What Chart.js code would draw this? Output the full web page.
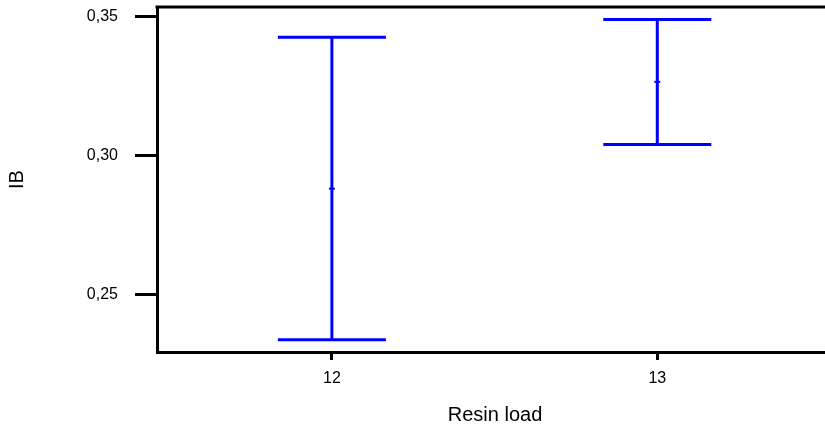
<!DOCTYPE html>
<html>
<head>
<meta charset="utf-8">
<script src="https://cdn.jsdelivr.net/npm/chart.js@4/dist/chart.umd.min.js"></script>
<style>
  html, body { margin: 0; padding: 0; background: #fff; overflow: hidden; }
  #wrap { width: 825px; height: 427px; overflow: hidden; }
</style>
</head>
<body>
<div id="wrap"><canvas id="c" width="833" height="427"></canvas></div>
<script>
// IB vs resin load: interval plot (mean with low/high bars)
// the frame runs past the right edge of the window, as in the source image
const resinLoad = [12, 13];
const ibMean = [0.2882, 0.3266];
const ibLow  = [0.2339, 0.3041];
const ibHigh = [0.3426, 0.3490];
const yTicks = [0.25, 0.30, 0.35];
const xTicks = [12, 13];

const BLUE = "#0000ff";
const FONT = "'Liberation Sans', Arial, sans-serif";

// draws the vertical interval bars with caps, via the chart scales
const intervalBars = {
  id: "intervalBars",
  afterDatasetsDraw(chart) {
    const { ctx, scales: { x, y } } = chart;
    const cap = 54;
    ctx.save();
    ctx.strokeStyle = BLUE;
    ctx.lineWidth = 3;
    resinLoad.forEach((v, i) => {
      const px = x.getPixelForValue(v);
      const top = y.getPixelForValue(ibHigh[i]);
      const bot = y.getPixelForValue(ibLow[i]);
      ctx.beginPath();
      ctx.moveTo(px, top); ctx.lineTo(px, bot);
      ctx.moveTo(px - cap, top); ctx.lineTo(px + cap, top);
      ctx.moveTo(px - cap, bot); ctx.lineTo(px + cap, bot);
      ctx.stroke();
    });
    ctx.restore();
  }
};

// top edge of the frame
const topFrame = {
  id: "topFrame",
  afterDraw(chart) {
    const { ctx, chartArea: a } = chart;
    ctx.save();
    ctx.strokeStyle = "#000";
    ctx.lineWidth = 3;
    ctx.beginPath();
    ctx.moveTo(a.left - 1.5, a.top);
    ctx.lineTo(a.right, a.top);
    ctx.stroke();
    ctx.restore();
  }
};

new Chart(document.getElementById("c"), {
  type: "scatter",
  data: {
    datasets: [{
      data: resinLoad.map((v, i) => ({ x: v, y: ibMean[i] })),
      pointStyle: "line",
      pointRadius: 3,
      borderWidth: 2,
      borderColor: BLUE,
      backgroundColor: BLUE,
    }]
  },
  options: {
    responsive: false,
    animation: false,
    layout: { autoPadding: false, padding: { top: 7, right: 0, left: 0, bottom: 0 } },
    plugins: { legend: { display: false }, tooltip: { enabled: false } },
    scales: {
      x: {
        type: "linear",
        min: 11.4625,
        max: 13.54,
        afterBuildTicks: s => { s.ticks = xTicks.map(v => ({ value: v })); },
        afterFit: s => { s.height = 75; s.paddingLeft = 0; s.paddingRight = 0; },
        border: { color: "#000", width: 3 },
        grid: { drawOnChartArea: false, tickLength: 8, tickWidth: 3, tickColor: "#000" },
        ticks: { color: "#000", padding: 9, font: { family: FONT, size: 16 } },
        title: {
          display: true, text: "Resin load", color: "#000",
          font: { family: FONT, size: 20 }, padding: { top: 7, bottom: 0 }
        }
      },
      y: {
        min: 0.2295,
        max: 0.3535,
        afterBuildTicks: s => { s.ticks = yTicks.map(v => ({ value: v })); },
        afterFit: s => { s.width = 157; s.paddingTop = 0; s.paddingBottom = 0; },
        border: { color: "#000", width: 3 },
        grid: { drawOnChartArea: false, tickLength: 22, tickWidth: 3, tickColor: "#000" },
        ticks: {
          color: "#000", padding: 17, font: { family: FONT, size: 16 },
          callback: v => v.toFixed(2).replace(".", ",")
        },
        title: {
          display: true, text: "IB", color: "#000",
          font: { family: FONT, size: 20 }, padding: { top: 5, bottom: 0 }
        }
      }
    }
  },
  plugins: [intervalBars, topFrame]
});
</script>
</body>
</html>
